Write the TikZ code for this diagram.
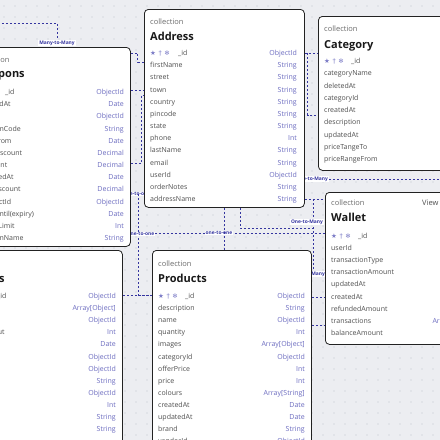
\documentclass[tikz,border=0pt]{standalone}
\usepackage{fontspec}
\setmainfont{Open Sans}
\newfontfamily\iconfont{DejaVu Sans}
\usetikzlibrary{calc}
\pgfdeclarelayer{paper}
\pgfdeclarelayer{wires}
\pgfsetlayers{paper,wires,main}

\definecolor{canvas}{HTML}{ECEDF1}
\definecolor{griddot}{HTML}{BFC2CC}
\definecolor{linkblue}{HTML}{3535A0}
\definecolor{typeblue}{HTML}{6C6CC0}
\definecolor{fieldgray}{HTML}{4F4F4F}
\definecolor{edgegray}{HTML}{222222}

\tikzset{
  box/.style={draw=edgegray, fill=white, line width=0.8pt, rounded corners=4pt, anchor=north west, inner sep=0pt},
  coll/.style={anchor=base west, font=\fontsize{7.5}{8}\selectfont, text=fieldgray!85, inner sep=0pt},
  ttl/.style={anchor=base west, font=\fontsize{11}{12}\selectfont\bfseries, text=black!90, inner sep=0pt},
  fld/.style={anchor=base west, font=\fontsize{7}{8}\selectfont, text=fieldgray, inner sep=0pt},
  typ/.style={anchor=base east, font=\fontsize{7}{8}\selectfont, text=typeblue, inner sep=0pt},
  icons/.style={anchor=base west, font=\iconfont\fontsize{6.5}{7}\selectfont, text=typeblue!90, inner sep=0pt},
  link/.style={draw=linkblue, line width=0.65pt, dash pattern=on 2.4pt off 1.6pt},
  lbl/.style={fill=white, text=linkblue, font=\fontsize{4.9}{5}\selectfont\bfseries, inner sep=0.8pt},
}

\begin{document}
\begin{tikzpicture}[x=1pt,y=-1pt]
\useasboundingbox (0,0) rectangle (440,440);
\begin{pgfonlayer}{paper}
\fill[canvas] (0,0) rectangle (440,440);
\foreach \gx in {4,15,...,440}
  \foreach \gy in {6,17,...,440}
    \fill[griddot] (\gx,\gy) circle (0.55pt);
\end{pgfonlayer}

% collections
\node[box, minimum width=160pt, minimum height=199pt] (coupons) at (-30,47) {};
\node[box, minimum width=160pt, minimum height=198pt] (address) at (144,9) {};
\node[box, minimum width=172pt, minimum height=154pt] (category) at (318,16) {};
\node[box, minimum width=160pt, minimum height=152pt] (wallet) at (325,192) {};
\node[box, minimum width=159pt, minimum height=220pt] (products) at (152,250) {};
\node[box, minimum width=162pt, minimum height=220pt] (orders) at (-40,250) {};

% coupons
\node[coll] at (-24,62.7) {collection};
\node[ttl] at (-23,77) {Coupons};
\node[icons] at (-22,94.5) {★\hspace{2.5pt}†\hspace{2.5pt}❄};
\node[fld] (coupons-f1) at (5,94.5) {\_id};
\node[typ] (coupons-t1) at (124,94.5) {ObjectId};
\foreach \f/\t [count=\i from 2] in {createdAt/Date, userId/ObjectId, couponCode/String,
    validFrom/Date, maxDiscount/Decimal, discount/Decimal, updatedAt/Date, minDiscount/Decimal,
    productId/ObjectId, validUntil(expiry)/Date, usageLimit/Int, couponName/String}
{
  \node[fld] (coupons-f\i) at (-21,{94.5+12.17*(\i-1)}) {\f};
  \node[typ] (coupons-t\i) at (124,{94.5+12.17*(\i-1)}) {\t};
}

% address
\node[coll] at (150,24.7) {collection};
\node[ttl] at (150,40) {Address};
\node[icons] at (150,55.5) {★\hspace{2.5pt}†\hspace{2.5pt}❄};
\node[fld] (address-f1) at (178,55.5) {\_id};
\node[typ] (address-t1) at (297,55.5) {ObjectId};
\foreach \f/\t [count=\i from 2] in {firstName/String, street/String, town/String,
    country/String, pincode/String, state/String, phone/Int, lastName/String,
    email/String, userId/ObjectId, orderNotes/String, addressName/String}
{
  \node[fld] (address-f\i) at (150,{55.5+12.17*(\i-1)}) {\f};
  \node[typ] (address-t\i) at (297,{55.5+12.17*(\i-1)}) {\t};
}

% category
\node[coll] at (324,31.7) {collection};
\node[ttl] at (324,48) {Category};
\node[icons] at (324,63.5) {★\hspace{2.5pt}†\hspace{2.5pt}❄};
\node[fld] (category-f1) at (351,63.5) {\_id};
\node[typ] (category-t1) at (482,63.5) {ObjectId};
\foreach \f/\t [count=\i from 2] in {categoryName/String, deletedAt/Date, categoryId/ObjectId,
    createdAt/Date, description/String, updatedAt/Date, priceTangeTo/Int, priceRangeFrom/Int}
{
  \node[fld] (category-f\i) at (324,{63.5+12.25*(\i-1)}) {\f};
  \node[typ] (category-t\i) at (482,{63.5+12.25*(\i-1)}) {\t};
}

% wallet
\node[coll] at (331,205.7) {collection};
\node[fld, font=\fontsize{7.5}{8}\selectfont] at (422,205.7) {View};
\node[ttl] at (331,221) {Wallet};
\node[icons] at (331,238.5) {★\hspace{2.5pt}†\hspace{2.5pt}❄};
\node[fld] (wallet-f1) at (358,238.5) {\_id};
\node[typ] (wallet-t1) at (476,238.5) {ObjectId};
\foreach \f/\t [count=\i from 2] in {userId/ObjectId, transactionType/String, transactionAmount/Int,
    updatedAt/Date, createdAt/Date, refundedAmount/Int, transactions/{Array[Object]}, balanceAmount/Int}
{
  \node[fld] (wallet-f\i) at (331,{238.5+12.1*(\i-1)}) {\f};
  \node[typ] (wallet-t\i) at (476,{238.5+12.1*(\i-1)}) {\t};
}

% products
\node[coll] at (158,266.7) {collection};
\node[ttl] at (158,282) {Products};
\node[icons] at (158,298.5) {★\hspace{2.5pt}†\hspace{2.5pt}❄};
\node[fld] (products-f1) at (185,298.5) {\_id};
\node[typ] (products-t1) at (305,298.5) {ObjectId};
\foreach \f/\t [count=\i from 2] in {description/String, name/ObjectId, quantity/Int,
    images/{Array[Object]}, categoryId/ObjectId, offerPrice/Int, price/Int, colours/{Array[String]},
    createdAt/Date, updatedAt/Date, brand/String, vendorId/ObjectId}
{
  \node[fld] (products-f\i) at (158,{298.5+12.1*(\i-1)}) {\f};
  \node[typ] (products-t\i) at (305,{298.5+12.1*(\i-1)}) {\t};
}

% orders
\node[coll] at (-33,266.7) {collection};
\node[ttl] at (-33,282) {Orders};
\node[icons] at (-30,298.5) {★\hspace{2.5pt}†\hspace{2.5pt}❄};
\node[fld] (orders-f1) at (-3,298.5) {\_id};
\node[typ] (orders-t1) at (116,298.5) {ObjectId};
\foreach \f/\t [count=\i from 2] in {products/{Array[Object]}, productId/ObjectId, totalPayout/Int,
    createdAt/Date, userId/ObjectId, couponId/ObjectId, status/String, cartId/ObjectId,
    discount/Int, payment/String, remarks/String}
{
  \node[fld] (orders-f\i) at (-33,{298.5+12.1*(\i-1)}) {\f};
  \node[typ] (orders-t\i) at (116,{298.5+12.1*(\i-1)}) {\t};
}

% relations
\begin{pgfonlayer}{wires}
\coordinate (offleft) at (-6,23);
\coordinate (offright) at (446,179);
\draw[link] (offleft) -| ($(coupons.north west)+(87,0)$);
\node[lbl] (m2m) at (57,43) {Many-to-Many};
\draw[link] ($(coupons.north east)+(0,6)$) -- ++(7,0) |- ($(address.north west)+(0,53)$);
\draw[link] ($(coupons.north east)+(0,43)$) -- ($(address.north west)+(0,81)$);
\draw[link] ($(coupons.north east)+(0,116)$) -- ++(11,0) |- ($(address.north west)+(0,86)$);
\draw[link] ($(coupons.north east)+(0,147)$) -- ($(address.north west)+(0,185)$);
\node[lbl] at (137,194) {one-to-one};
\draw[link] ($(coupons.north east)+(8,147)$) |- ($(products.north west)+(0,45)$);
\draw[link] ($(orders.north east)+(0,45)$) -- ($(products.north west)+(0,45)$);
\draw[link] ($(coupons.north east)+(0,186)$) -- ($(wallet.north west)+(0,41)$);
\node[lbl] at (141,234) {one-to-one};
\node[lbl] at (219,233) {one-to-one};
\draw[link] ($(address.south west)+(80,0)$) -- ($(products.north west)+(72,0)$);
\draw[link] ($(address.north east)+(0,44)$) -- ($(category.north west)+(0,37)$);
\draw[link] ($(address.north east)+(3,44)$) |- ($(category.north west)+(0,99)$);
\draw[link] ($(address.north east)+(-20,170)$) -- (offright);
\node[lbl] at (312,179) {One-to-Many};
\draw[link] ($(address.north east)+(0,190)$) -- ($(wallet.north west)+(0,7)$);
\draw[link] ($(address.north east)+(9,190)$) |- ($(wallet.north west)+(0,82)$);
\draw[link] ($(address.south west)+(96,0)$) |- ($(address.north east)+(9,219)$);
\node[lbl] at (307,222) {One-to-Many};
\node[lbl] at (309,274) {One-to-Many};
\draw[link] ($(products.north east)+(0,47)$) -- ($(wallet.north west)+(0,105)$);
\draw[link] ($(products.north east)+(0,75)$) -- ($(wallet.north west)+(0,133)$);
\end{pgfonlayer}
\end{tikzpicture}
\end{document}
